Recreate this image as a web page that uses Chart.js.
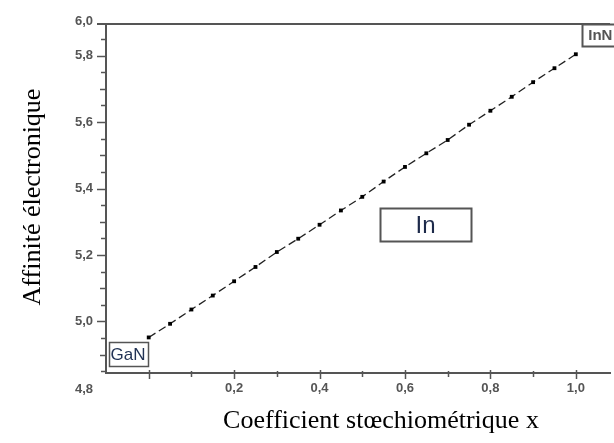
<!DOCTYPE html>
<html>
<head>
<meta charset="utf-8">
<script src="https://cdn.jsdelivr.net/npm/chart.js@4.4.0/dist/chart.umd.min.js"></script>
<style>
  html, body { margin: 0; padding: 0; background: #fff; overflow: hidden; }
  #chart { display: block; }
</style>
</head>
<body>
<canvas id="chart" width="614" height="443"></canvas>
<script>
// Stoichiometric coefficient x and electron affinity (eV)
const xValues = [0, 0.05, 0.1, 0.15, 0.2, 0.25, 0.3, 0.35, 0.4, 0.45, 0.5,
                 0.55, 0.6, 0.65, 0.7, 0.75, 0.8, 0.85, 0.9, 0.95, 1.0];
const affinity = [4.952, 4.993, 5.036, 5.078, 5.121, 5.164, 5.209, 5.249, 5.291, 5.334, 5.375,
                  5.421, 5.465, 5.506, 5.546, 5.592, 5.634, 5.676, 5.720, 5.762, 5.804];

const xTicks = [0.2, 0.4, 0.6, 0.8, 1.0];
const yTicks = [5.0, 5.2, 5.4, 5.6, 5.8];
const yCornerLabels = ['4,8', '6,0'];   // bottom, top
const boxTexts = ['GaN', 'In', 'InN'];

const axisColor = '#555';
const labelFont = '"Liberation Sans", Arial, sans-serif';
const fmt = v => v.toFixed(1).replace('.', ',');

/** Ticks of different lengths, frame line, corner labels, text boxes, axis titles */
const decorPlugin = {
    id: 'decor',
    afterDraw(chart) {
        const { ctx, chartArea: a, scales: { x, y } } = chart;
        ctx.save();
        ctx.strokeStyle = axisColor;

        // y ticks every 0.05 (outside)
        ctx.lineWidth = 1.5;
        for (let i = 0; i <= 20; i++) {
            const v = 4.85 + i * 0.05;
            const py = Math.round(y.getPixelForValue(v)) + 0.5;
            const major = yTicks.some(t => Math.abs(t - v) < 1e-6);
            const len = major ? 9 : (i % 2 === 1 ? 6 : 5);
            ctx.beginPath();
            ctx.moveTo(a.left - len, py);
            ctx.lineTo(a.left, py);
            ctx.stroke();
        }
        // x ticks every 0.1
        for (let i = 0; i <= 10; i++) {
            const v = i * 0.1;
            const px = Math.round(x.getPixelForValue(v)) + 0.5;
            const major = i % 2 === 0;
            ctx.beginPath();
            ctx.moveTo(px, a.bottom - (major ? 3 : 2));
            ctx.lineTo(px, a.bottom + (major ? 6 : 4));
            ctx.stroke();
        }

        // top frame line
        ctx.lineWidth = 2;
        ctx.beginPath();
        ctx.moveTo(a.left - 9, a.top);
        ctx.lineTo(a.right, a.top);
        ctx.stroke();

        // corner labels of the y axis
        ctx.fillStyle = '#555';
        ctx.font = 'bold 13px ' + labelFont;
        ctx.textAlign = 'right';
        ctx.textBaseline = 'middle';
        ctx.fillText(yCornerLabels[0], a.left - 13, a.bottom + 16);
        ctx.fillText(yCornerLabels[1], a.left - 13, a.top - 3);

        // text boxes
        const box = (x0, x1, y0, y1, lw) => {
            const l = x.getPixelForValue(x0), r = x.getPixelForValue(x1);
            const t = y.getPixelForValue(y1), b = y.getPixelForValue(y0);
            ctx.lineWidth = lw;
            ctx.strokeStyle = '#555';
            ctx.strokeRect(Math.round(l) + 0.5, Math.round(t) + 0.5, Math.round(r - l), Math.round(b - t));
            return { l, r, t, b };
        };
        let g = box(-0.094, -0.002, 4.864, 4.937, 1.5);
        ctx.fillStyle = '#223355';
        ctx.font = '17px ' + labelFont;
        ctx.textAlign = 'left';
        ctx.fillText(boxTexts[0], g.l + 2, (g.t + g.b) / 2 + 1);

        g = box(0.541, 0.755, 5.241, 5.340, 2);
        ctx.fillStyle = '#1d2a4a';
        ctx.font = '24px ' + labelFont;
        ctx.textAlign = 'center';
        ctx.fillText(boxTexts[1], (g.l + g.r) / 2, (g.t + g.b) / 2 + 1);

        g = box(1.015, 1.2, 5.828, 5.895, 2);
        ctx.fillStyle = '#555';
        ctx.font = 'bold 15px ' + labelFont;
        ctx.textAlign = 'left';
        ctx.fillText(boxTexts[2], g.l + 6, (g.t + g.b) / 2 + 1);

        // axis titles
        ctx.fillStyle = '#000';
        ctx.font = '26px "Liberation Serif", "Times New Roman", serif';
        ctx.textAlign = 'center';
        ctx.textBaseline = 'alphabetic';
        ctx.fillText('Coefficient stœchiométrique x', 381, 428);
        ctx.translate(40, 197);
        ctx.rotate(-Math.PI / 2);
        ctx.fillText('Affinité électronique', 0, 0);

        ctx.restore();
    }
};

new Chart(document.getElementById('chart').getContext('2d'), {
    type: 'scatter',
    data: {
        datasets: [{
            data: xValues.map((v, i) => ({ x: v, y: affinity[i] })),
            showLine: true,
            borderColor: '#222',
            borderWidth: 1.3,
            borderDash: [8, 4],
            pointStyle: 'rect',
            pointRadius: 2.7,
            pointBackgroundColor: '#000',
            pointBorderColor: '#000',
            pointBorderWidth: 0
        }]
    },
    options: {
        responsive: false,
        animation: false,
        devicePixelRatio: 1,
        layout: { padding: { top: 24, right: 0, left: 0, bottom: 0 } },
        plugins: {
            legend: { display: false },
            tooltip: { enabled: false }
        },
        scales: {
            x: {
                type: 'linear',
                min: -0.1,
                max: 1.08,
                grid: { display: false, drawTicks: false },
                border: { display: true, color: axisColor, width: 2 },
                afterBuildTicks: s => { s.ticks = xTicks.map(v => ({ value: v })); },
                afterFit: s => { s.height = 70; },
                ticks: {
                    autoSkip: false,
                    maxRotation: 0,
                    padding: 8,
                    color: '#555',
                    font: { family: labelFont, size: 13, weight: 'bold' },
                    callback: v => fmt(v)
                }
            },
            y: {
                type: 'linear',
                min: 4.845,
                max: 5.895,
                grid: { display: false, drawTicks: false },
                border: { display: true, color: axisColor, width: 2 },
                afterBuildTicks: s => { s.ticks = yTicks.map(v => ({ value: v })); },
                afterFit: s => { s.width = 106; },
                ticks: {
                    autoSkip: false,
                    padding: 13,
                    color: '#555',
                    font: { family: labelFont, size: 13, weight: 'bold' },
                    callback: v => fmt(v)
                }
            }
        }
    },
    plugins: [decorPlugin]
});
</script>
</body>
</html>
